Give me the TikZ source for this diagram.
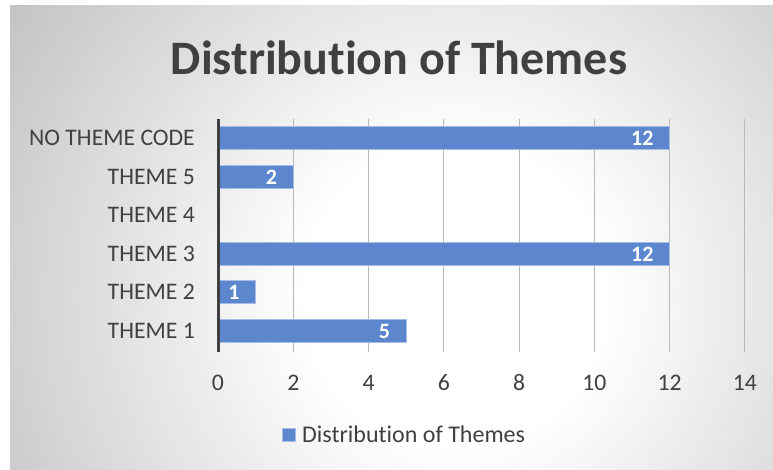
\documentclass[tikz,border=0pt]{standalone}
\usepackage{fontspec}
\setmainfont{Carlito}[Ligatures=CommonOff]
\usetikzlibrary{positioning}
\definecolor{barblue}{RGB}{92,134,206}
\definecolor{barline}{RGB}{165,188,230}
\definecolor{txtgray}{RGB}{64,64,64}
\definecolor{gridgray}{RGB}{185,185,185}
\pgfdeclareradialshading{chartbg}{\pgfpoint{0bp}{0bp}}{color(0bp)=(white); color(7bp)=(white); color(25bp)=(gray!48); color(50bp)=(gray!48)}
\begin{document}
\begin{tikzpicture}[x=1pt,y=-1pt,
  catlabel/.style={anchor=base east,inner sep=0pt,text=txtgray,font=\fontsize{23.7}{28}\selectfont},
  ticklabel/.style={anchor=base,inner sep=0pt,text=txtgray,font=\fontsize{23.7}{28}\selectfont},
  vallabel/.style={anchor=base east,inner sep=0pt,text=white,font=\fontsize{22}{26}\selectfont\bfseries},
  bar/.style={fill=barblue,draw=barline,line width=1pt}]
\useasboundingbox (0,0) rectangle (773,470);
\fill[white] (0,0) rectangle (773,470);
\begin{scope}
\clip (10,6) rectangle (773,470);
\shade[shading=chartbg] (455,295) circle (540);
\end{scope}
% title
\node[inner sep=0pt,anchor=base,text=txtgray,font=\fontsize{48}{56}\selectfont\bfseries] (title) at (399,75) {Distribution of Themes};
% grid
\foreach \v in {2,4,...,14}{
	\draw[gridgray,line width=1pt] ({218+\v*37.64},119)--({218+\v*37.64},352);}
% bars
\foreach \i/\val/\name in {0/12/NO THEME CODE,1/2/THEME 5,2/0/THEME 4,3/12/THEME 3,4/1/THEME 2,5/5/THEME 1}{
	\pgfmathsetmacro{\cy}{138.25+38.5*\i}
	\node[catlabel] (cat\i) at (195,\cy+7.5) {\name};
	\ifnum\val>0
	\draw[bar] (219.5,\cy-11.5) rectangle ({218+\val*37.64},\cy+11.5);
	\node[vallabel] (val\i) at ({218+\val*37.64-16},\cy+7.5) {\val};
	\fi}
\draw[txtgray,line width=3pt] (218,119)--(218,352);
% axis numbers
\foreach \v in {0,2,...,14}{
	\node[ticklabel] (tick\v) at ({218+\v*37.64},390) {\v};}
% legend
\node[fill=barblue,draw=barline,line width=1pt,minimum size=13pt,inner sep=0pt] (legkey) at (289,435) {};
\node[right=6pt of legkey.east,anchor=base west,yshift=-7pt,inner sep=0pt,text=txtgray,font=\fontsize{24}{28}\selectfont] (legtext) {Distribution of Themes};
\end{tikzpicture}
\end{document}
